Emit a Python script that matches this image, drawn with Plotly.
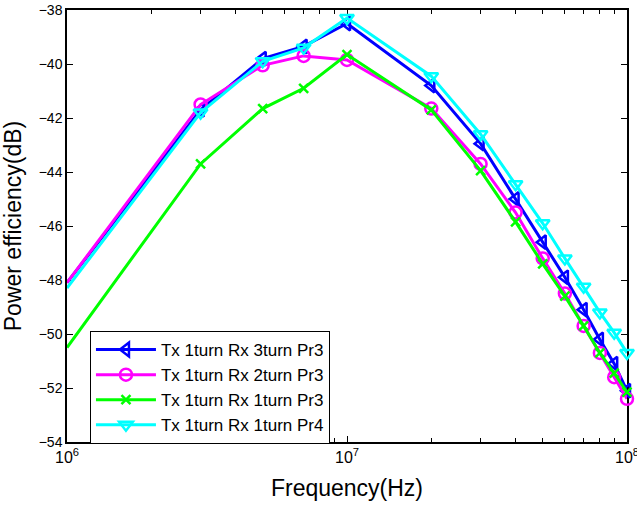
import plotly.graph_objects as go

freq = [1e6, 3e6, 5e6, 7e6, 1e7, 2e7, 3e7, 4e7, 5e7, 6e7, 7e7, 8e7, 9e7, 1e8]
rx3_pr3 = [-48.1, -41.7, -39.8, -39.35, -38.5, -40.8, -42.95, -45.0, -46.6, -47.9, -49.1, -50.2, -51.1, -52.1]
rx2_pr3 = [-48.1, -41.5, -40.05, -39.7, -39.85, -41.65, -43.7, -45.5, -47.2, -48.5, -49.7, -50.7, -51.6, -52.4]
rx1_pr3 = [-50.5, -43.7, -41.65, -40.9, -39.65, -41.7, -43.95, -45.85, -47.4, -48.6, -49.7, -50.7, -51.45, -52.15]
rx1_pr4 = [-48.3, -41.8, -39.9, -39.4, -38.3, -40.45, -42.6, -44.45, -45.9, -47.2, -48.25, -49.2, -49.95, -50.7]

names = ["Tx 1turn Rx 3turn Pr3", "Tx 1turn Rx 2turn Pr3", "Tx 1turn Rx 1turn Pr3", "Tx 1turn Rx 1turn Pr4"]
series = [rx3_pr3, rx2_pr3, rx1_pr3, rx1_pr4]
colors = ["#0000ff", "#ff00ff", "#00ff00", "#00ffff"]
symbols = ["triangle-left-open", "circle-open", "x-thin-open", "triangle-down-open"]
sizes = [12, 12, 9, 12]
x_tick_vals = [1e6, 1e7, 1e8]
x_tick_text = ["10<sup>6</sup>", "10<sup>7</sup>", "10<sup>8</sup>"]
x_minor_vals = [k * 10 ** e for e in (6, 7) for k in range(2, 10)]

fig = go.Figure()
for n, s, c, m, sz in zip(names, series, colors, symbols, sizes):
    fig.add_trace(go.Scatter(
        x=freq, y=s, name=n, mode="lines+markers",
        line=dict(color=c, width=3),
        marker=dict(symbol=m, size=sz, color=c, line=dict(color=c, width=2.5)),
        cliponaxis=False,
    ))

font = "Liberation Sans, Arial"
axis_common = dict(
    showline=True, linecolor="black", linewidth=1.5, mirror="ticks",
    ticks="inside", ticklen=6, tickcolor="black", showgrid=False, zeroline=False,
    automargin=False, layer="below traces",
)
fig.update_xaxes(
    type="log", range=[6, 8], tickvals=x_tick_vals, ticktext=x_tick_text,
    tickfont=dict(family=font, size=16, color="black"), ticklabeloverflow="allow",
    title=dict(text="Frequency(Hz)", font=dict(family=font, size=23, color="black")),
    minor=dict(tickvals=x_minor_vals, ticks="inside", ticklen=4, tickcolor="black", showgrid=False),
    **axis_common,
)
fig.update_yaxes(
    range=[-54, -38], dtick=2, tickformat="d",
    tickfont=dict(family=font, size=14, color="black"),
    title=dict(text="Power efficiency(dB)", font=dict(family=font, size=23, color="black")),
    **axis_common,
)
fig.update_layout(
    width=637, height=506,
    margin=dict(l=67, r=10, t=10, b=64, autoexpand=False),
    paper_bgcolor="white", plot_bgcolor="white",
    legend=dict(x=0.041, y=0.257, xanchor="left", yanchor="top",
                bordercolor="black", borderwidth=1, bgcolor="white",
                font=dict(family=font, size=17, color="black"),
                tracegroupgap=0, itemwidth=60),
    showlegend=True,
)
fig.write_html("out.html", config={"displayModeBar": False},
               post_script="document.body.style.margin='0';")
